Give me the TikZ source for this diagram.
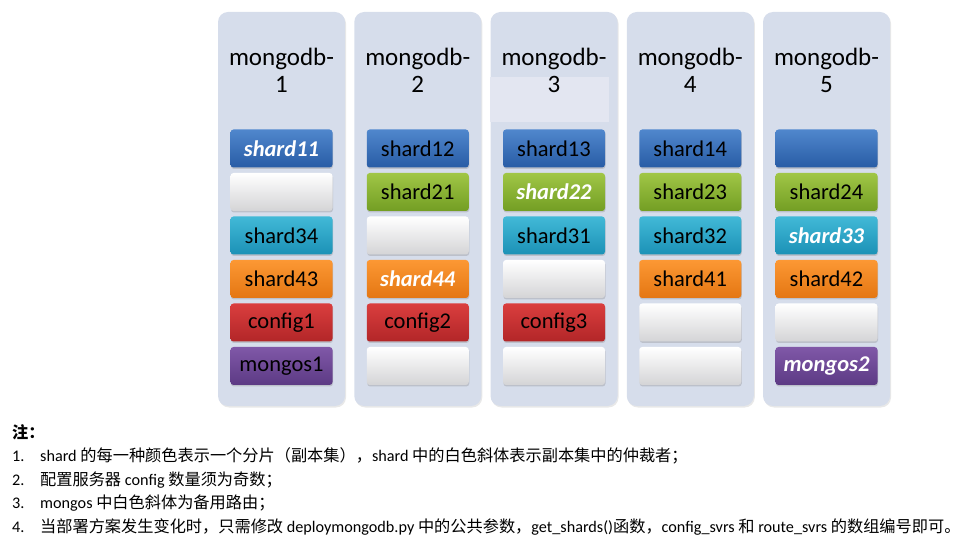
\documentclass[tikz,border=0pt]{standalone}
\usepackage{fontspec}
\setmainfont{Carlito}
\newfontfamily\cjk{Noto Sans CJK SC}
\usetikzlibrary{shadows}

\definecolor{panelbg}{RGB}{214,221,235}
\definecolor{panellite}{RGB}{227,230,241}
\definecolor{bluetop}{RGB}{80,135,205}
\definecolor{bluebot}{RGB}{40,92,165}
\definecolor{greentop}{RGB}{160,198,70}
\definecolor{greenbot}{RGB}{115,158,35}
\definecolor{cyantop}{RGB}{65,185,215}
\definecolor{cyanbot}{RGB}{28,145,182}
\definecolor{orangetop}{RGB}{252,152,52}
\definecolor{orangebot}{RGB}{228,118,18}
\definecolor{redtop}{RGB}{218,62,62}
\definecolor{redbot}{RGB}{178,38,40}
\definecolor{purpletop}{RGB}{128,88,168}
\definecolor{purplebot}{RGB}{92,58,132}
\definecolor{whitebot}{RGB}{212,212,214}

\newcommand\zh[1]{{\cjk #1}}
\newcommand\arb[1]{{\color{white}\bfseries\itshape #1}}

\tikzset{
  panel/.style={fill=panelbg, rounded corners=10pt, minimum width=127pt, minimum height=394pt,
    drop shadow={opacity=0.18, shadow xshift=1pt, shadow yshift=-1.5pt}},
  title/.style={align=center, font=\fontsize{25}{27}\selectfont},
  box/.style={rounded corners=3pt, minimum width=102pt, minimum height=38pt,
    font=\fontsize{22.5}{22.5}\selectfont,
    drop shadow={opacity=0.3, shadow xshift=0.5pt, shadow yshift=-1.5pt}},
  bluebox/.style={box, top color=bluetop, bottom color=bluebot},
  greenbox/.style={box, top color=greentop, bottom color=greenbot},
  cyanbox/.style={box, top color=cyantop, bottom color=cyanbot},
  orangebox/.style={box, top color=orangetop, bottom color=orangebot},
  redbox/.style={box, top color=redtop, bottom color=redbot},
  purplebox/.style={box, top color=purpletop, bottom color=purplebot},
  whitebox/.style={box, top color=white, bottom color=whitebot},
  note/.style={anchor=west, inner sep=0pt, font=\fontsize{16.2}{18}\selectfont},
}

\begin{document}
\begin{tikzpicture}[x=1pt, y=-1pt]
            \def \xa {281.5}
            \def \xb {417.75}
            \def \xc {554}
            \def \xd {690.25}
            \def \xe {826.5}

            \def \ypanel {209}
            \def \ytitle {70.5}
            \def \ya {148.5}
            \def \yb {192}
            \def \yc {235.5}
            \def \yd {279}
            \def \ye {322.5}
            \def \yf {366}

            \useasboundingbox (0,0) rectangle (967,545);

% panels
            \node [panel] (p1) at (\xa, \ypanel) {};
            \node [panel] (p2) at (\xb, \ypanel) {};
            \node [panel] (p3) at (\xc, \ypanel) {};
            \node [panel] (p4) at (\xd, \ypanel) {};
            \node [panel] (p5) at (\xe, \ypanel) {};
            \fill [panellite] (490, 77) rectangle (609, 122);

% titles
            \node [title] (t1) at (\xa, \ytitle) {mongodb-\\1};
            \node [title] (t2) at (\xb, \ytitle) {mongodb-\\2};
            \node [title] (t3) at (\xc, \ytitle) {mongodb-\\3};
            \node [title] (t4) at (\xd, \ytitle) {mongodb-\\4};
            \node [title] (t5) at (\xe, \ytitle) {mongodb-\\5};

% mongodb-1
            \node [bluebox]   (b11) at (\xa, \ya) {\arb{shard11}};
            \node [whitebox]  (b12) at (\xa, \yb) {};
            \node [cyanbox]   (b13) at (\xa, \yc) {shard34};
            \node [orangebox] (b14) at (\xa, \yd) {shard43};
            \node [redbox]    (b15) at (\xa, \ye) {config1};
            \node [purplebox] (b16) at (\xa, \yf) {mongos1};
% mongodb-2
            \node [bluebox]   (b21) at (\xb, \ya) {shard12};
            \node [greenbox]  (b22) at (\xb, \yb) {shard21};
            \node [whitebox]  (b23) at (\xb, \yc) {};
            \node [orangebox] (b24) at (\xb, \yd) {\arb{shard44}};
            \node [redbox]    (b25) at (\xb, \ye) {config2};
            \node [whitebox]  (b26) at (\xb, \yf) {};
% mongodb-3
            \node [bluebox]   (b31) at (\xc, \ya) {shard13};
            \node [greenbox]  (b32) at (\xc, \yb) {\arb{shard22}};
            \node [cyanbox]   (b33) at (\xc, \yc) {shard31};
            \node [whitebox]  (b34) at (\xc, \yd) {};
            \node [redbox]    (b35) at (\xc, \ye) {config3};
            \node [whitebox]  (b36) at (\xc, \yf) {};
% mongodb-4
            \node [bluebox]   (b41) at (\xd, \ya) {shard14};
            \node [greenbox]  (b42) at (\xd, \yb) {shard23};
            \node [cyanbox]   (b43) at (\xd, \yc) {shard32};
            \node [orangebox] (b44) at (\xd, \yd) {shard41};
            \node [whitebox]  (b45) at (\xd, \ye) {};
            \node [whitebox]  (b46) at (\xd, \yf) {};
% mongodb-5
            \node [bluebox]   (b51) at (\xe, \ya) {};
            \node [greenbox]  (b52) at (\xe, \yb) {shard24};
            \node [cyanbox]   (b53) at (\xe, \yc) {\arb{shard33}};
            \node [orangebox] (b54) at (\xe, \yd) {shard42};
            \node [whitebox]  (b55) at (\xe, \ye) {};
            \node [purplebox] (b56) at (\xe, \yf) {\arb{mongos2}};

% notes
            \node [note] (n0) at (12, 432) {\cjk\bfseries 注：};
            \node [note] (k1) at (12, 456) {1.};
            \node [note] (k2) at (12, 480) {2.};
            \node [note] (k3) at (12, 503.5) {3.};
            \node [note] (k4) at (12, 527) {4.};
            \node [note] (n1) at (40, 456) {shard \zh{的每一种颜色表示一个分片（副本集），}shard \zh{中的白色斜体表示副本集中的仲裁者；}};
            \node [note] (n2) at (40, 480) {\zh{配置服务器} config \zh{数量须为奇数；}};
            \node [note] (n3) at (40, 503.5) {mongos \zh{中白色斜体为备用路由；}};
            \node [note] (n4) at (40, 527) {\zh{当部署方案发生变化时，只需修改} deploymongodb.py \zh{中的公共参数，}get\_shards()\zh{函数，}config\_svrs \zh{和} route\_svrs \zh{的数组编号即可。}};

        \end{tikzpicture}
\end{document}
